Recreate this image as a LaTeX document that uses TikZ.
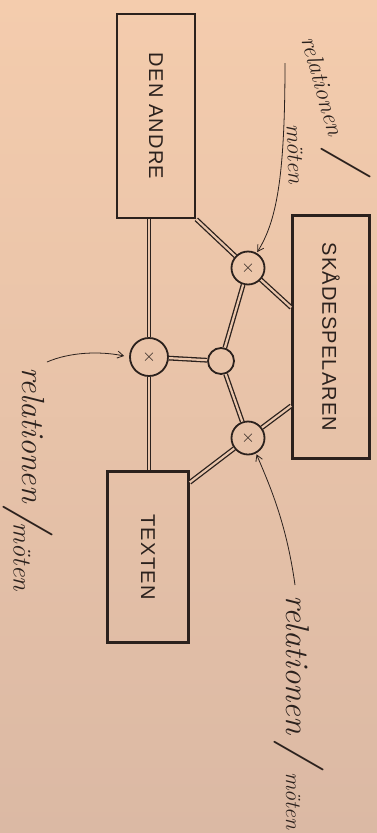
\documentclass[tikz,border=0pt]{standalone}
\usepackage{fontspec}
\newfontfamily\boxfont[LetterSpace=6]{Liberation Sans}
\usetikzlibrary{arrows.meta,calc}
\definecolor{ink}{HTML}{2B211D}
\definecolor{papertop}{HTML}{F4CCAD}
\definecolor{papermid}{HTML}{EAC6AC}
\definecolor{paperbot}{HTML}{DBB9A4}
\begin{document}
\begin{tikzpicture}[x=1pt,y=-1pt,
  box/.style={draw=ink, line width=2.6pt, inner sep=0pt, text=ink,
    font=\boxfont\fontsize{20}{22}\selectfont},
  ring/.style={draw=ink, line width=1.8pt, circle, inner sep=0pt, text=ink},
  dbl/.style={draw=ink, line width=1.3pt, double=papermid, double distance=2.2pt},
  arr/.style={draw=ink, line width=0.8pt, -{Straight Barb[length=6pt,width=7pt]}},
  hw/.style={text=ink, inner sep=0pt}
]
\useasboundingbox (0,0) rectangle (377,833);
\shade[top color=papertop, bottom color=paperbot] (0,0) rectangle (377,833);

% boxes
\node[box, minimum width=78pt, minimum height=204pt] (da) at (156,116) {\rotatebox{-90}{DEN ANDRE}};
\node[box, minimum width=77pt, minimum height=243pt] (sk) at (331,337) {\rotatebox{-90}{SKÅDESPELAREN}};
\node[box, minimum width=81pt, minimum height=171pt] (tx) at (148,557) {\rotatebox{-90}{TEXTEN}};

% circles
\node[ring, minimum size=38pt] (x1) at (149,357) {\LARGE$\times$};
\node[ring, minimum size=33pt] (xt) at (248,268) {\LARGE$\times$};
\node[ring, minimum size=33pt] (xb) at (248,438) {\LARGE$\times$};
\node[ring, minimum size=26pt] (mid) at (221,361) {};

% double connectors
\draw[dbl] (x1) -- (x1 |- da.south);
\draw[dbl] (x1) -- (x1 |- tx.north);
\draw[dbl] (x1) -- (mid);
\draw[dbl] (mid) -- (xt);
\draw[dbl] (mid) -- (xb);
\draw[dbl] (xt) -- (da.south east);
\draw[dbl] (xt) -- ($(sk.north west)!0.38!(sk.south west)$);
\draw[dbl] (xb) -- ($(sk.north west)!0.78!(sk.south west)$);
\draw[dbl] (xb) -- ($(tx.north east)!0.07!(tx.south east)$);

% arrows
\coordinate (aTR) at (285,63);
\coordinate (aL) at (47,362);
\coordinate (aBR) at (295,585);
\draw[arr, shorten >=1pt] (aTR) .. controls (285,180) and (276,222) .. (xt.60);
\draw[arr, shorten >=5pt] (aL) .. controls (70,352) and (100,351) .. (x1.west);
\draw[arr, shorten >=1pt] (aBR) .. controls (286,520) and (268,482) .. (xb.-62);

% handwritten labels
\node[hw, rotate=-74, font=\fontsize{24}{26}\selectfont\itshape] (tr1) at (323,86) {relationen};
\node[hw, rotate=-90, font=\fontsize{50}{50}\selectfont\itshape] (tr2) at (346,160) {/};
\node[hw, rotate=-88, font=\fontsize{23}{25}\selectfont\itshape] (tr3) at (295,154) {möten};

\node[hw, rotate=-90, font=\fontsize{32}{34}\selectfont\itshape] (l1) at (33,435) {relationen};
\node[hw, rotate=-90, font=\fontsize{50}{50}\selectfont\itshape] (l2) at (28,518) {/};
\node[hw, rotate=-90, font=\fontsize{26}{28}\selectfont\itshape] (l3) at (22,557) {möten};

\node[hw, rotate=-90, font=\fontsize{33}{35}\selectfont\itshape] (b1) at (298,665) {relationen};
\node[hw, rotate=-90, font=\fontsize{50}{50}\selectfont\itshape] (b2) at (299,753) {/};
\node[hw, rotate=-90, font=\fontsize{22}{24}\selectfont\itshape] (b3) at (293,801) {möten};
\end{tikzpicture}
\end{document}
